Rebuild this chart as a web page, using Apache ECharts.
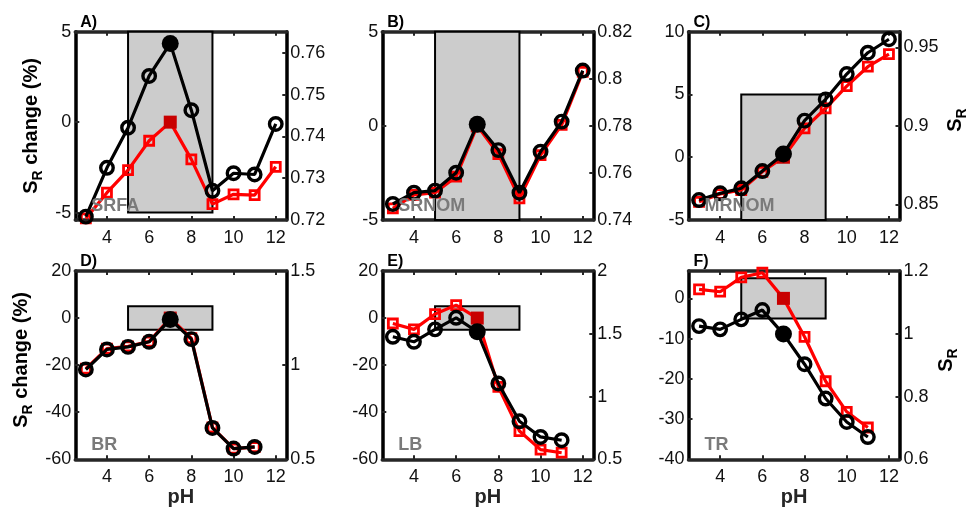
<!DOCTYPE html>
<html>
<head>
<meta charset="utf-8">
<script src="https://cdn.jsdelivr.net/npm/echarts@6/dist/echarts.min.js"></script>
<style>
  html, body { margin: 0; padding: 0; background: #fff; }
  #chart { width: 972px; height: 512px; }
</style>
</head>
<body>
<div id="chart"></div>
<script>
// pH series (the bottom row stops at pH 11)
const pHFull = [3, 4, 5, 6, 7, 8, 9, 10, 11, 12];
const pHShort = [3, 4, 5, 6, 7, 8, 9, 10, 11];
const refPH = 7;

// S_R change (%) relative to pH 7 (left axis) and S_R (right axis)
const srfaChange  = [-5.32, -3.90, -2.65, -1.03, 0, -2.06, -4.53, -3.99, -4.03, -2.47];
const srfaSR      = [0.7208, 0.7325, 0.7421, 0.7545, 0.7623, 0.7463, 0.7270, 0.7312, 0.7309, 0.7430];
const srnomChange = [-4.38, -3.67, -3.55, -2.70, 0, -1.50, -3.85, -1.55, 0.05, 2.87];
const srnomSR     = [0.7468, 0.7516, 0.7525, 0.7601, 0.7807, 0.7697, 0.7516, 0.7690, 0.7818, 0.8035];
const mrnomChange = [-3.55, -2.93, -2.61, -1.16, 0, 2.30, 3.90, 5.67, 7.21, 8.22];
const mrnomSR     = [0.8527, 0.8570, 0.8602, 0.8712, 0.8821, 0.9033, 0.9169, 0.9330, 0.9466, 0.9552];
const brChange    = [-21.5, -13.0, -12.0, -10.0, 0, -8.5, -46.5, -55.5, -54.8];
const brSR        = [0.977, 1.0835, 1.097, 1.124, 1.243, 1.138, 0.6665, 0.557, 0.5655];
const lbChange    = [-2.3, -4.8, 1.7, 5.5, 0, -29.2, -48.0, -55.9, -57.2];
const lbSR        = [1.476, 1.436, 1.535, 1.627, 1.516, 1.104, 0.803, 0.678, 0.652];
const trChange    = [2.24, 1.65, 5.23, 6.38, 0, -9.55, -20.6, -28.2, -32.1];
const trSR        = [1.0245, 1.014, 1.046, 1.0755, 0.999, 0.903, 0.7937, 0.719, 0.671];

// axes
const xRange = [2.5, 12.5];
const xTicks = [4, 6, 8, 10, 12];
const bufferPH = [5, 9];        // shaded pH window
const bufferChange = [-5, 5];   // shaded +/-5 % band

const leftRanges  = [[-5.41, 5], [-5, 5], [-5, 10], [-60, 20], [-60, 20], [-40, 6.8]];
const leftTicks   = [[-5, 0, 5], [-5, 0, 5], [-5, 0, 5, 10], [-60, -40, -20, 0, 20], [-60, -40, -20, 0, 20], [-40, -30, -20, -10, 0]];
const rightRanges = [[0.72, 0.7651], [0.74, 0.82], [0.84, 0.96], [0.5, 1.5], [0.5, 2], [0.6, 1.2]];
const rightTicks  = [[0.72, 0.73, 0.74, 0.75, 0.76], [0.74, 0.76, 0.78, 0.8, 0.82], [0.85, 0.9, 0.95], [0.5, 1, 1.5], [0.5, 1, 1.5, 2], [0.6, 0.8, 1, 1.2]];

const panelLetters = ['A)', 'B)', 'C)', 'D)', 'E)', 'F)'];
const sampleNames  = ['SRFA', 'SRNOM', 'MRNOM', 'BR', 'LB', 'TR'];
const panelX   = [pHFull, pHFull, pHFull, pHShort, pHShort, pHShort];
const changeSets = [srfaChange, srnomChange, mrnomChange, brChange, lbChange, trChange];
const srSets     = [srfaSR, srnomSR, mrnomSR, brSR, lbSR, trSR];

// layout
const FONT = "'Liberation Sans', Arial, Helvetica, sans-serif";
const colLeft = [75.3, 382.3, 688.5];
const rowTop = [31.7, 271];
const plotW = 211, plotH = 188.3;
const AXIS_DARK = '#262626';

const grids = [], xAxes = [], yAxes = [], series = [], graphics = [];

function tickStyle(values) {
  return { show: true, inside: true, length: 4, customValues: values,
           lineStyle: { color: AXIS_DARK, width: 2 } };
}
function labelStyle(values, margin) {
  return { show: true, customValues: values, fontSize: 18, fontFamily: FONT,
           color: '#111', margin: margin, formatter: v => String(+v.toFixed(4)) };
}

for (let i = 0; i < 6; i++) {
  const col = i % 3, row = Math.floor(i / 3);
  const left = colLeft[col], top = rowTop[row];
  grids.push({ left: left, top: top, width: plotW, height: plotH, containLabel: false });

  // bottom axis with labels
  xAxes.push({
    gridIndex: i, type: 'value', position: 'bottom', min: xRange[0], max: xRange[1],
    axisLine: { show: true, onZero: false, lineStyle: { color: AXIS_DARK, width: 3.5 } },
    axisTick: tickStyle(xTicks), axisLabel: labelStyle(xTicks, 9), splitLine: { show: false }
  });
  // top edge of the box
  xAxes.push({
    gridIndex: i, type: 'value', position: 'top', min: xRange[0], max: xRange[1],
    axisLine: { show: true, onZero: false, lineStyle: { color: AXIS_DARK, width: 3.5 } },
    axisTick: tickStyle(xTicks), axisLabel: { show: false }, splitLine: { show: false }
  });
  // left: change (%)
  yAxes.push({
    gridIndex: i, type: 'value', position: 'left', min: leftRanges[i][0], max: leftRanges[i][1],
    axisLine: { show: true, onZero: false, lineStyle: { color: '#000', width: 3.5 } },
    axisTick: tickStyle(leftTicks[i]), axisLabel: labelStyle(leftTicks[i], 4), splitLine: { show: false }
  });
  // right: S_R
  yAxes.push({
    gridIndex: i, type: 'value', position: 'right', min: rightRanges[i][0], max: rightRanges[i][1],
    axisLine: { show: true, onZero: false, lineStyle: { color: '#000', width: 3.5 } },
    axisTick: tickStyle(rightTicks[i]), axisLabel: labelStyle(rightTicks[i], 4), splitLine: { show: false }
  });

  const xs = panelX[i];
  const changeData = xs.map((p, k) => p === refPH
    ? { value: [p, changeSets[i][k]], symbol: 'rect', symbolSize: 13,
        itemStyle: { color: '#c80000', borderColor: '#c80000', borderWidth: 0 } }
    : [p, changeSets[i][k]]);
  const srData = xs.map((p, k) => p === refPH
    ? { value: [p, srSets[i][k]], symbol: 'circle', symbolSize: 17,
        itemStyle: { color: '#000', borderColor: '#000', borderWidth: 0 } }
    : [p, srSets[i][k]]);

  series.push({
    type: 'line', xAxisIndex: 2 * i, yAxisIndex: 2 * i, data: changeData,
    symbol: 'rect', symbolSize: 9, showSymbol: true,
    lineStyle: { color: '#ff0000', width: 3.2 },
    itemStyle: { color: 'rgba(255,255,255,0)', borderColor: '#ff0000', borderWidth: 2.8 },
    z: 3, silent: true, animation: false,
    markArea: {
      silent: true,
      itemStyle: { color: '#cccccc', borderColor: '#000', borderWidth: 2 },
      data: [[{ xAxis: bufferPH[0], yAxis: bufferChange[0] }, { xAxis: bufferPH[1], yAxis: bufferChange[1] }]]
    }
  });
  series.push({
    type: 'line', xAxisIndex: 2 * i, yAxisIndex: 2 * i + 1, data: srData,
    symbol: 'circle', symbolSize: 12.5, showSymbol: true,
    lineStyle: { color: '#000', width: 3.2 },
    itemStyle: { color: 'rgba(255,255,255,0)', borderColor: '#000', borderWidth: 3.4 },
    z: 4, silent: true, animation: false
  });

  // panel letter
  graphics.push({
    type: 'text', x: left + 5, y: top - 9,
    style: { text: panelLetters[i], fontSize: 16, fontWeight: 'bold', fontFamily: FONT,
             fill: '#000', align: 'left', verticalAlign: 'middle' }, z: 10
  });
  // sample name
  graphics.push({
    type: 'text', x: left + 16, y: top + plotH - 14,
    style: { text: sampleNames[i], fontSize: 18, fontWeight: 'bold', fontFamily: FONT,
             fill: '#7a7a7a', align: 'left', verticalAlign: 'middle' }, z: 10
  });
}

const subRich = {
  m: { fontSize: 20, fontWeight: 'bold', fontFamily: FONT, fill: '#000', lineHeight: 28, verticalAlign: 'middle' },
  r: { fontSize: 14, fontWeight: 'bold', fontFamily: FONT, fill: '#000', lineHeight: 14, verticalAlign: 'bottom' }
};
function axisTitle(x, y, text) {
  return { type: 'text', x: x, y: y, rotation: Math.PI / 2,
           style: { text: text, rich: subRich, align: 'center', verticalAlign: 'middle' }, z: 10 };
}
graphics.push(axisTitle(31, 126, '{m|S}{r|R}{m| change (%)}'));
graphics.push(axisTitle(21, 360, '{m|S}{r|R}{m| change (%)}'));
graphics.push(axisTitle(955, 120, '{m|S}{r|R}'));
graphics.push(axisTitle(946, 360, '{m|S}{r|R}'));
[0, 1, 2].forEach(c => {
  graphics.push({
    type: 'text', x: colLeft[c] + plotW / 2, y: 497,
    style: { text: 'pH', fontSize: 20, fontWeight: 'bold', fontFamily: FONT, fill: '#262626',
             align: 'center', verticalAlign: 'middle' }, z: 10
  });
});

const chart = echarts.init(document.getElementById('chart'), null, { renderer: 'canvas' });
chart.setOption({
  animation: false,
  backgroundColor: '#fff',
  grid: grids, xAxis: xAxes, yAxis: yAxes, series: series, graphic: graphics
});
</script>
</body>
</html>
